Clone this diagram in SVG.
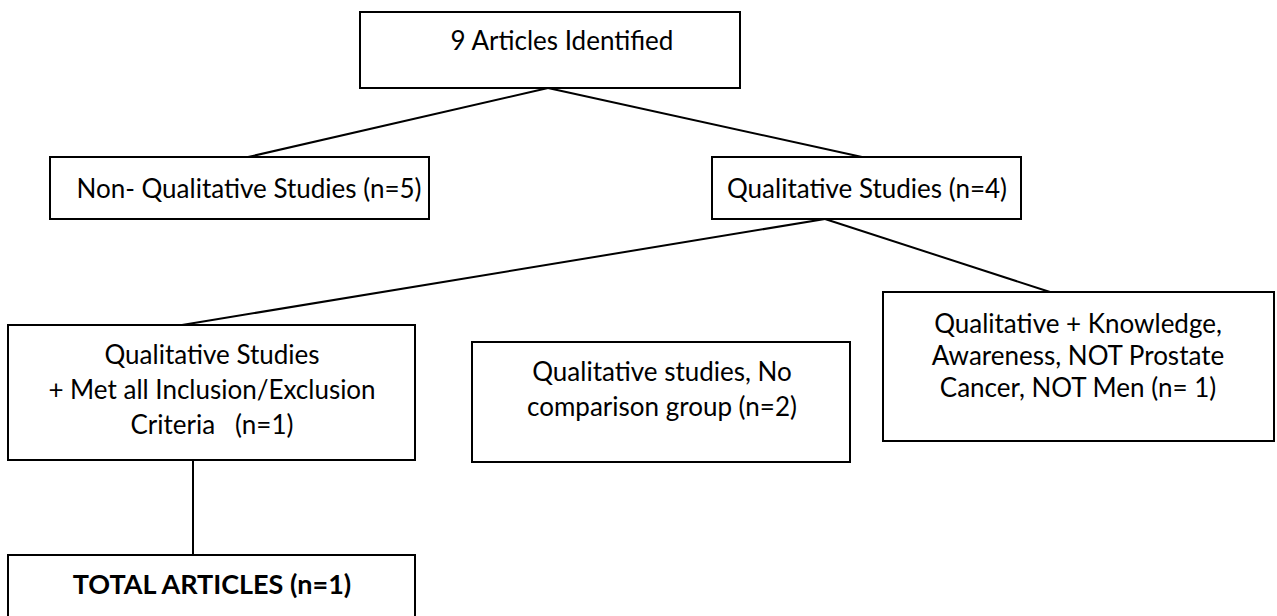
<svg xmlns="http://www.w3.org/2000/svg" width="1277" height="616" viewBox="0 0 1277 616">
  <style>
    .box { fill: #ffffff; stroke: #000000; stroke-width: 2; }
    .link { fill: none; stroke: #000000; stroke-width: 2; }
    .label { font-family: Lato, "Open Sans", "Liberation Sans", sans-serif; font-size: 26px; fill: #000000; text-anchor: middle; }
    .bold { font-weight: bold; font-size: 27px; }
  </style>
  <rect x="0" y="0" width="1277" height="616" fill="#ffffff"/>

  <!-- connectors -->
  <g id="connectors">
    <line class="link" x1="548" y1="88" x2="248" y2="157"/>
    <line class="link" x1="548" y1="88" x2="862" y2="157"/>
    <line class="link" x1="825" y1="219" x2="182" y2="325"/>
    <line class="link" x1="825" y1="219" x2="1050" y2="292"/>
    <line class="link" x1="193" y1="460" x2="193" y2="555"/>
  </g>

  <g id="node-identified">
    <rect class="box" x="360" y="12" width="380" height="76"/>
    <text class="label" x="562" y="50">9 Articles Identified</text>
  </g>

  <g id="node-non-qualitative">
    <rect class="box" x="50" y="157" width="379" height="62"/>
    <text class="label" x="249" y="198">Non- Qualitative Studies (n=5)</text>
  </g>

  <g id="node-qualitative">
    <rect class="box" x="712" y="157" width="309" height="62"/>
    <text class="label" x="867" y="198">Qualitative Studies (n=4)</text>
  </g>

  <g id="node-included">
    <rect class="box" x="8" y="325" width="407" height="135"/>
    <text class="label" x="212" y="364">Qualitative Studies</text>
    <text class="label" x="212" y="399">+ Met all Inclusion/Exclusion</text>
    <text class="label" x="212" y="434" xml:space="preserve">Criteria   (n=1)</text>
  </g>

  <g id="node-no-comparison">
    <rect class="box" x="472" y="342" width="378" height="120"/>
    <text class="label" x="662" y="381">Qualitative studies, No</text>
    <text class="label" x="662" y="416">comparison group (n=2)</text>
  </g>

  <g id="node-not-prostate">
    <rect class="box" x="883" y="292" width="391" height="149"/>
    <text class="label" x="1078" y="333">Qualitative + Knowledge,</text>
    <text class="label" x="1078" y="365">Awareness, NOT Prostate</text>
    <text class="label" x="1078" y="397">Cancer, NOT Men (n= 1)</text>
  </g>

  <g id="node-total">
    <rect class="box" x="8" y="555" width="407" height="70"/>
    <text class="label bold" x="212" y="594">TOTAL ARTICLES (n=1)</text>
  </g>
</svg>
